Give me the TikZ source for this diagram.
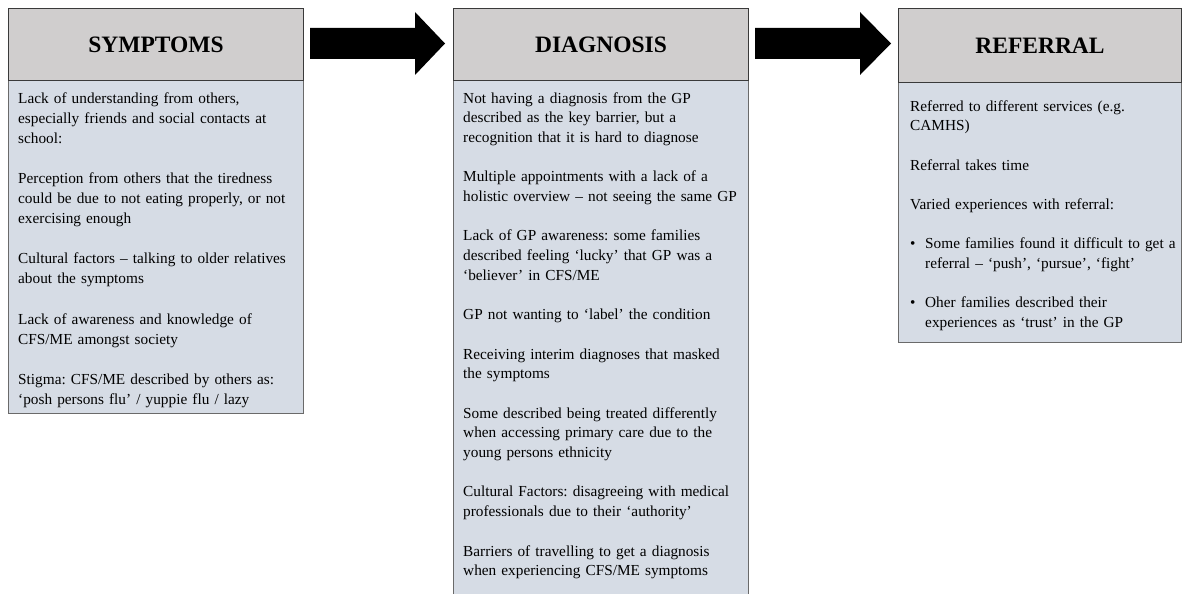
\documentclass[tikz,border=0pt]{standalone}
\usepackage{fontspec}
\setmainfont{Liberation Serif}
\definecolor{hdrfill}{HTML}{D0CECE}
\definecolor{bodyfill}{HTML}{D6DCE5}
\definecolor{bodyline}{HTML}{6A6A6A}
\definecolor{hdrline}{HTML}{3A3A3A}
\newcommand{\gapline}{\\[\baselineskip]}
\newcommand{\bul}{\makebox[15pt][l]{•}}
\newcommand{\bulind}{\hspace*{15pt}}
\frenchspacing
\begin{document}
\begin{tikzpicture}[x=1pt,y=-1pt,
  hdr/.style={draw=hdrline, line width=1pt, fill=hdrfill, anchor=north west, inner sep=0pt,
    font=\fontsize{23.5}{28}\selectfont\bfseries},
  bodybox/.style={draw=bodyline, line width=1pt, fill=bodyfill, anchor=north west, inner sep=0pt},
  txt/.style={anchor=base west, inner sep=0pt, text width=290pt, align=left,
    font=\fontsize{15.3}{19.7}\selectfont\frenchspacing},
  txtwide/.style={txt, font=\fontsize{15.3}{20.1}\selectfont\frenchspacing},
  blockarrow/.style={fill=black}]
\fill[white] (0,0) rectangle (1184,594);
\useasboundingbox (0,0) rectangle (1184,594);

% bodies
\node[bodybox, minimum width=295pt, minimum height=333pt] (sbody) at (8,80) {};
\node[bodybox, minimum width=295pt, minimum height=530pt] (dbody) at (453,80) {};
\node[bodybox, minimum width=283pt, minimum height=260pt] (rbody) at (898,82) {};

% headers
\node[hdr, minimum width=295pt, minimum height=72pt] (shdr) at (8,8) {SYMPTOMS};
\node[hdr, minimum width=295pt, minimum height=72pt] (dhdr) at (453,8) {DIAGNOSIS};
\node[hdr, minimum width=283pt, minimum height=74pt] (rhdr) at (898,8) {REFERRAL};

% arrows
\path[blockarrow] (310,28) -- (415,28) -- (415,12) -- (445,43.5) -- (415,75) -- (415,59) -- (310,59) -- cycle;
\path[blockarrow] (755,28) -- (860,28) -- (860,12) -- (891,43.5) -- (860,75) -- (860,59) -- (755,59) -- cycle;

% texts
\node[txtwide] (stxt) at (18,103) {Lack of understanding from others,\\
especially friends and social contacts at\\
school:\gapline
Perception from others that the tiredness\\
could be due to not eating properly, or not\\
exercising enough\gapline
Cultural factors – talking to older relatives\\
about the symptoms\gapline
Lack of awareness and knowledge of\\
CFS/ME amongst society\gapline
Stigma: CFS/ME described by others as:\\
‘posh persons flu’ / yuppie flu / lazy};

\node[txt] (dtxt) at (463,103) {Not having a diagnosis from the GP\\
described as the key barrier, but a\\
recognition that it is hard to diagnose\gapline
Multiple appointments with a lack of a\\
holistic overview – not seeing the same GP\gapline
Lack of GP awareness: some families\\
described feeling ‘lucky’ that GP was a\\
‘believer’ in CFS/ME\gapline
GP not wanting to ‘label’ the condition\gapline
Receiving interim diagnoses that masked\\
the symptoms\gapline
Some described being treated differently\\
when accessing primary care due to the\\
young persons ethnicity\gapline
Cultural Factors: disagreeing with medical\\
professionals due to their ‘authority’\gapline
Barriers of travelling to get a diagnosis\\
when experiencing CFS/ME symptoms};

\node[txt] (rtxt) at (910,111) {Referred to different services (e.g.\\
CAMHS)\gapline
Referral takes time\gapline
Varied experiences with referral:\gapline
\bul Some families found it difficult to get a\\
\bulind referral – ‘push’, ‘pursue’, ‘fight’\gapline
\bul Oher families described their\\
\bulind experiences as ‘trust’ in the GP};
\end{tikzpicture}
\end{document}
